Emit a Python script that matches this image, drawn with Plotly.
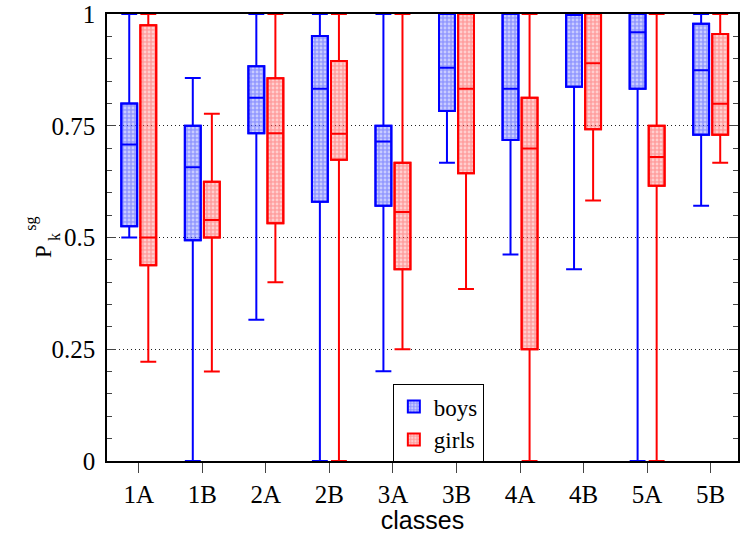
import plotly.graph_objects as go

# Classes on the x axis
classes = ["1A", "1B", "2A", "2B", "3A", "3B", "4A", "4B", "5A", "5B"]

# Box statistics of P_k^sg for boys, per class
boys_lower  = [0.500, 0.000, 0.316, 0.000, 0.201, 0.667, 0.462, 0.429, 0.000, 0.571]
boys_q1     = [0.525, 0.494, 0.733, 0.580, 0.571, 0.783, 0.718, 0.837, 0.833, 0.730]
boys_median = [0.708, 0.657, 0.8125, 0.833, 0.715, 0.880, 0.833, 1.000, 0.959, 0.874]
boys_q3     = [0.800, 0.750, 0.883, 0.951, 0.750, 1.000, 1.000, 1.000, 1.000, 0.978]
boys_upper  = [1.000, 0.857, 1.000, 1.000, 1.000, 1.000, 1.000, 1.000, 1.000, 1.000]

# Box statistics of P_k^sg for girls, per class
girls_lower  = [0.222, 0.200, 0.400, 0.000, 0.250, 0.385, 0.000, 0.583, 0.000, 0.667]
girls_q1     = [0.438, 0.500, 0.532, 0.674, 0.429, 0.644, 0.250, 0.742, 0.616, 0.730]
girls_median = [0.500, 0.539, 0.733, 0.732, 0.557, 0.833, 0.699, 0.890, 0.680, 0.799]
girls_q3     = [0.975, 0.625, 0.856, 0.895, 0.667, 1.000, 0.8125, 1.000, 0.750, 0.955]
girls_upper  = [1.000, 0.777, 1.000, 1.000, 1.000, 1.000, 1.000, 1.000, 1.000, 1.000]

y_ticks = [0, 0.25, 0.5, 0.75, 1]
y_tick_text = ["0", "0.25", "0.5", "0.75", "1"]

SERIF = "'Liberation Serif', 'Times New Roman', 'DejaVu Serif', serif"
SANS = "'Liberation Sans', Arial, 'DejaVu Sans', sans-serif"
BOX_W = 0.25
series = [
    ("boys", -0.15, "#0000ff", "rgba(80,90,255,0.62)",
     boys_lower, boys_q1, boys_median, boys_q3, boys_upper),
    ("girls", 0.15, "#ff0000", "rgba(255,80,80,0.55)",
     girls_lower, girls_q1, girls_median, girls_q3, girls_upper),
]

fig = go.Figure()

# Patterned box bodies (also provide the legend swatches)
for name, off, col, bg, lo, q1, med, q3, up in series:
    xs = [i + off for i in range(len(classes))]
    fig.add_trace(go.Bar(
        x=xs, base=q1, y=[b - a for a, b in zip(q1, q3)], width=BOX_W,
        name=name, showlegend=True,
        marker=dict(color=bg, line=dict(color=col, width=2),
                    pattern=dict(shape=".", fgcolor="white", bgcolor=bg,
                                 size=4, solidity=0.4)),
        hoverinfo="skip",
    ))

# Whiskers, caps, medians and box outlines
for name, off, col, bg, lo, q1, med, q3, up in series:
    xs = [i + off for i in range(len(classes))]
    fig.add_trace(go.Box(
        x=xs, q1=q1, median=med, q3=q3, lowerfence=lo, upperfence=up,
        width=BOX_W, whiskerwidth=1, boxpoints=False,
        fillcolor="rgba(0,0,0,0)", line=dict(color=col, width=2),
        name=name, showlegend=False,
    ))

fig.update_layout(
    width=740, height=534,
    margin=dict(l=107, r=0, t=14, b=73),
    plot_bgcolor="white", paper_bgcolor="white",
    barmode="overlay", boxmode="overlay",
    font=dict(family=SERIF, color="black", size=25),
    legend=dict(
        x=0.453, y=0.172, xanchor="left", yanchor="top",
        bordercolor="black", borderwidth=1, bgcolor="white",
        font=dict(family=SERIF, size=23), itemwidth=30,
        tracegroupgap=0,
    ),
    xaxis=dict(
        range=[-0.5, 9.43], tickmode="array",
        tickvals=list(range(len(classes))), ticktext=classes,
        ticks="outside", ticklen=10, tickwidth=1.2, tickcolor="#444",
        showline=True, linecolor="black", linewidth=1.5, mirror=True,
        showgrid=False, zeroline=False,
        tickfont=dict(family=SERIF, size=25),
        title=dict(text="classes", standoff=3,
                   font=dict(family=SANS, size=25)),
    ),
    yaxis=dict(
        range=[0, 1], tickmode="array", tickvals=y_ticks, ticktext=y_tick_text,
        ticks="inside", ticklen=9, tickwidth=1.2, tickcolor="#444",
        minor=dict(dtick=0.05, ticks="inside", ticklen=5, tickcolor="#444",
                   showgrid=False),
        showline=True, linecolor="black", linewidth=1.5, mirror="allticks",
        showgrid=True, gridcolor="#222", griddash="1px,3px", gridwidth=1,
        zeroline=False, ticklabelstandoff=5,
        tickfont=dict(family=SERIF, size=25),
    ),
)

# Axis label P_k^sg with stacked sub/superscript
fig.add_annotation(text="P", xref="paper", yref="paper", x=0, y=0.4687,
                   xshift=-78, textangle=-90, showarrow=False,
                   font=dict(family=SERIF, size=23))
fig.add_annotation(text="k", xref="paper", yref="paper", x=0, y=0.50,
                   xshift=-63, textangle=-90, showarrow=False,
                   font=dict(family=SERIF, size=16))
fig.add_annotation(text="sg", xref="paper", yref="paper", x=0, y=0.531,
                   xshift=-87, textangle=-90, showarrow=False,
                   font=dict(family=SERIF, size=16))

fig.write_html("out.html")
